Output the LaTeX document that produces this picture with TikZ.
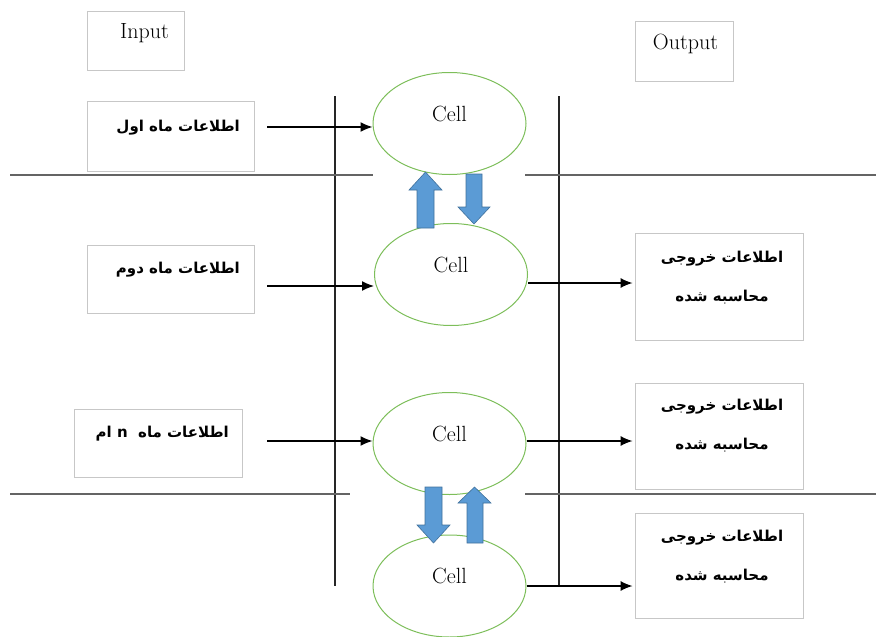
\documentclass[tikz,border=0pt]{standalone}
\usepackage{fontspec}
\usetikzlibrary{shapes.geometric,arrows.meta}
\TeXXeTstate=1
\newfontfamily\fafont[Script=Arabic]{DejaVu Sans}
\definecolor{cellgreen}{RGB}{125,190,90}
\definecolor{blockblue}{RGB}{91,155,213}
\definecolor{blockedge}{RGB}{65,113,156}
\definecolor{sepgray}{RGB}{100,100,100}
\tikzset{
  boxframe/.style={draw=black!22, line width=0.8pt, inner sep=0pt},
  latintext/.style={font=\fontsize{22}{26}\selectfont, inner sep=0pt},
  fatext/.style={font=\fafont\bfseries\fontsize{15}{39}\selectfont, inner sep=0pt},
  cell/.style={ellipse, draw=cellgreen, line width=1pt, minimum width=153pt, minimum height=102pt, inner sep=0pt,
    label={[latintext, yshift=10pt]center:Cell}},
  flow/.style={-{Latex[length=12pt,width=10pt]}, line width=1.4pt},
  sepline/.style={sepgray, line width=1.8pt},
  lane/.style={black!85, line width=1.4pt},
  blockarrow/.style={fill=blockblue, draw=blockedge, line width=0.6pt}
}
\begin{document}
\begin{tikzpicture}[x=1pt,y=-1pt]
        \useasboundingbox (0,0) rectangle (876,637);
        % headers
        \node [boxframe, minimum width=97pt, minimum height=59pt] (inhead) at (135.5,40.5) {};
        \node [latintext] (intitle) at (144.5,33) {Input};
        \node [boxframe, minimum width=98pt, minimum height=60pt] (outhead) at (684,51) {};
        \node [latintext] (outtitle) at (685.5,44) {Output};
        % input boxes
        \node [boxframe, minimum width=167pt, minimum height=70pt] (in1) at (170.5,136) {};
        \node [fatext, anchor=east] (t1) at (240,128) {\beginR اطلاعات ماه اول\endR};
        \node [boxframe, minimum width=167pt, minimum height=68pt] (in2) at (170.5,279) {};
        \node [fatext, anchor=east] (t2) at (240,270) {\beginR اطلاعات ماه دوم\endR};
        \node [boxframe, minimum width=168pt, minimum height=68pt] (in3) at (158,443) {};
        \node [fatext, anchor=east] (t3) at (229,434) {\beginR اطلاعات ماه \ \beginL n\endL{} ام\endR};
        % output boxes
        \node [boxframe, minimum width=168pt, minimum height=107pt] (out1) at (719,286.5) {};
        \node [fatext, align=center] (o1) at (722,277.5) {\beginR اطلاعات خروجی\endR\\\beginR محاسبه شده\endR};
        \node [boxframe, minimum width=168pt, minimum height=106pt] (out2) at (719,436) {};
        \node [fatext, align=center] (o2) at (722,426) {\beginR اطلاعات خروجی\endR\\\beginR محاسبه شده\endR};
        \node [boxframe, minimum width=168pt, minimum height=105pt] (out3) at (719,565.5) {};
        \node [fatext, align=center] (o3) at (722,557) {\beginR اطلاعات خروجی\endR\\\beginR محاسبه شده\endR};
        % lanes and separators
        \draw [lane] (335,96) -- (335,586);
        \draw [lane] (559,96) -- (559,586);
        \draw [sepline] (10,175) -- (373,175);
        \draw [sepline] (525,175) -- (876,175);
        \draw [sepline] (10,494) -- (350,494);
        \draw [sepline] (525,494) -- (876,494);
        % cells
        \node [cell] (cell1) at (449.5,123.5) {};
        \node [cell] (cell2) at (451,274.5) {};
        \node [cell] (cell3) at (449.5,443.5) {};
        \node [cell] (cell4) at (449.5,586) {};
        % inputs into cells
        \coordinate (s1) at (267,127);
        \coordinate (s2) at (267,286);
        \coordinate (s3) at (267,441);
        \draw [flow] (s1) -- (s1 -| cell1.west);
        \draw [flow] (s2) -- (s2 -| cell2.west);
        \draw [flow] (s3) -- (s3 -| cell3.west);
        % cells to outputs
        \draw [flow] (cell2.east |- 0,283) -- ([xshift=-2pt]out1.west |- 0,283);
        \draw [flow] (cell3.east |- 0,441) -- ([xshift=-2pt]out2.west |- 0,441);
        \draw [flow] (cell4.east |- 0,586) -- ([xshift=-2pt]out3.west |- 0,586);
        % block arrows between cells
        \filldraw [blockarrow] (417,228) -- (417,190) -- (409,190) -- (425.5,172) -- (442,190) -- (434,190) -- (434,228) -- cycle;
        \filldraw [blockarrow] (466,174) -- (466,207) -- (458,207) -- (474,224) -- (490,207) -- (482,207) -- (482,174) -- cycle;
        \filldraw [blockarrow] (425,487) -- (425,525) -- (417,525) -- (433.5,543) -- (450,525) -- (442,525) -- (442,487) -- cycle;
        \filldraw [blockarrow] (467,543) -- (467,503) -- (458,503) -- (474.5,487) -- (491,503) -- (483,503) -- (483,543) -- cycle;
\end{tikzpicture}
\end{document}
